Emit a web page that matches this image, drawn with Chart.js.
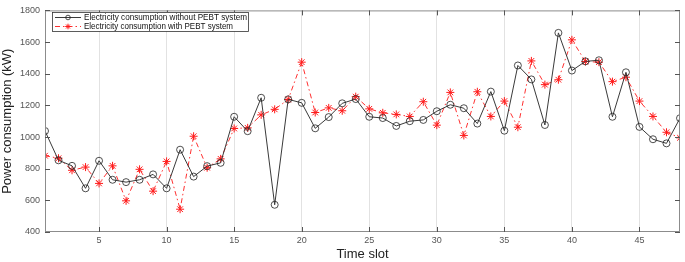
<!DOCTYPE html>
<html>
<head>
<meta charset="utf-8">
<script src="https://cdn.jsdelivr.net/npm/chart.js@4.4.1/dist/chart.umd.min.js"></script>
<style>
  html, body { margin: 0; padding: 0; background: #fff; }
  #wrap { width: 685px; height: 262px; }
</style>
</head>
<body>
<div id="wrap"><canvas id="powerChart" width="685" height="262"></canvas></div>
<script>
const timeSlots = [1, 2, 3, 4, 5, 6, 7, 8, 9, 10, 11, 12, 13, 14, 15, 16, 17, 18, 19, 20, 21, 22, 23, 24,
                   25, 26, 27, 28, 29, 30, 31, 32, 33, 34, 35, 36, 37, 38, 39, 40, 41, 42, 43, 44, 45, 46, 47, 48];
const withoutPebt = [1038, 853, 818, 676, 850, 730, 715, 730, 764, 676, 920, 750, 816, 837, 1128, 1037,
                     1248, 572, 1238, 1216, 1055, 1126, 1213, 1240, 1128, 1120, 1070, 1100, 1108, 1163, 1204, 1182,
                     1085, 1287, 1040, 1452, 1364, 1076, 1658, 1420, 1478, 1485, 1128, 1409, 1064, 986, 960, 1119];
const withPebt = [882, 866, 790, 810, 707, 818, 597, 796, 658, 846, 544, 1005, 806, 862, 1054, 1058,
                  1140, 1175, 1237, 1473, 1155, 1184, 1166, 1255, 1178, 1153, 1143, 1130, 1223, 1075, 1282, 1010,
                  1286, 1130, 1227, 1062, 1481, 1331, 1362, 1614, 1477, 1473, 1350, 1378, 1227, 1130, 1030, 995];
const xTicks = [5, 10, 15, 20, 25, 30, 35, 40, 45];
const yTicks = [400, 600, 800, 1000, 1200, 1400, 1600, 1800];
const seriesNames = ['Electricity consumption without PEBT system', 'Electricity consumption with PEBT system'];

const toPoints = function(values) {
    return values.map(function(v, i) { return { x: timeSlots[i], y: v }; });
};

// box around the plot, inward tick marks and the boxed legend (MATLAB look)
const framePlugin = {
    id: 'frame',
    afterDraw: function(chart) {
        const ctx = chart.ctx;
        const a = chart.chartArea;
        const xs = chart.scales.x, ys = chart.scales.y;
        ctx.save();
        ctx.strokeStyle = '#8c8c8c';
        ctx.lineWidth = 1;
        ctx.strokeRect(a.left + 0.5, a.top + 0.5, a.right - a.left - 1, a.bottom - a.top - 1);
        ctx.strokeStyle = '#555';
        ctx.beginPath();
        xTicks.forEach(function(t) {
            const px = Math.round(xs.getPixelForValue(t)) + 0.5;
            ctx.moveTo(px, a.bottom); ctx.lineTo(px, a.bottom - 5);
            ctx.moveTo(px, a.top); ctx.lineTo(px, a.top + 5);
        });
        yTicks.forEach(function(t) {
            const py = Math.round(ys.getPixelForValue(t)) + 0.5;
            ctx.moveTo(a.left, py); ctx.lineTo(a.left + 5, py);
            ctx.moveTo(a.right, py); ctx.lineTo(a.right - 5, py);
        });
        ctx.stroke();

        // legend
        const lx = 52, ly = 12, lw = 196, lh = 19;
        ctx.fillStyle = '#fff';
        ctx.fillRect(lx, ly, lw, lh);
        ctx.strokeStyle = '#333';
        ctx.lineWidth = 0.8;
        ctx.strokeRect(lx + 0.5, ly + 0.5, lw, lh);
        chart.data.datasets.forEach(function(ds, i) {
            const y = ly + 5.5 + i * 9;
            ctx.strokeStyle = ds.borderColor;
            ctx.lineWidth = ds.borderWidth;
            ctx.setLineDash(ds.borderDash || []);
            ctx.beginPath();
            ctx.moveTo(lx + 3, y); ctx.lineTo(lx + 29, y);
            ctx.stroke();
            ctx.setLineDash([]);
            ctx.strokeStyle = ds.pointBorderColor;
            ctx.fillStyle = ds.pointBackgroundColor;
            ctx.lineWidth = ds.pointBorderWidth;
            Chart.helpers.drawPoint(ctx, {
                pointStyle: ds.pointStyle, radius: ds.pointRadius - 1.2, borderWidth: ds.pointBorderWidth
            }, lx + 16, y);
            ctx.fillStyle = '#111';
            ctx.font = '9px "Liberation Sans", Arial, sans-serif';
            ctx.textBaseline = 'middle';
            const maxW = i === 0 ? 163 : 149;
            ctx.fillText(ds.label, lx + 32, y + 0.5, maxW);
        });
        ctx.restore();
    }
};

document.addEventListener('DOMContentLoaded', function() {
    const ctx = document.getElementById('powerChart');
    new Chart(ctx, {
        type: 'line',
        data: {
            datasets: [{
                label: seriesNames[0],
                data: toPoints(withoutPebt),
                borderColor: '#3a3a3a',
                borderWidth: 1,
                pointStyle: 'circle',
                pointRadius: 3.5,
                pointBorderWidth: 0.8,
                pointBorderColor: '#222',
                pointBackgroundColor: 'rgba(255,255,255,0)',
                tension: 0
            }, {
                label: seriesNames[1],
                data: toPoints(withPebt),
                borderColor: '#ff3030',
                borderWidth: 1,
                borderDash: [5, 3, 1.5, 3],
                pointStyle: 'star',
                pointRadius: 4,
                pointBorderWidth: 1,
                pointBorderColor: '#ff1a1a',
                pointBackgroundColor: '#ff1a1a',
                tension: 0
            }]
        },
        options: {
            responsive: false,
            animation: false,
            layout: { padding: { top: 4, right: 3, left: 0, bottom: 0 } },
            plugins: {
                legend: { display: false },
                tooltip: { enabled: false }
            },
            scales: {
                x: {
                    type: 'linear',
                    min: 1,
                    max: 48,
                    afterBuildTicks: function(scale) {
                        scale.ticks = xTicks.map(function(v) { return { value: v }; });
                    },
                    afterFit: function(scale) { scale.height = 30; },
                    grid: { color: '#e2e2e2', lineWidth: 1, drawTicks: false },
                    border: { display: false },
                    ticks: {
                        color: '#555',
                        padding: 3,
                        maxRotation: 0,
                        callback: function(v) { return String(v); },
                        font: { family: '"Liberation Sans", Arial, sans-serif', size: 9 }
                    },
                    title: {
                        display: true,
                        text: 'Time slot',
                        color: '#222',
                        padding: { top: 0, bottom: 0 },
                        font: { family: '"Liberation Sans", Arial, sans-serif', size: 13 }
                    }
                },
                y: {
                    min: 400,
                    max: 1800,
                    afterBuildTicks: function(scale) {
                        scale.ticks = yTicks.map(function(v) { return { value: v }; });
                    },
                    afterFit: function(scale) { scale.width = 45; },
                    grid: { display: false, drawTicks: false },
                    border: { display: false },
                    ticks: {
                        color: '#555',
                        padding: 5,
                        callback: function(v) { return String(v); },
                        font: { family: '"Liberation Sans", Arial, sans-serif', size: 9 }
                    },
                    title: {
                        display: true,
                        text: 'Power consumption (kW)',
                        color: '#222',
                        padding: { top: 0, bottom: 2 },
                        font: { family: '"Liberation Sans", Arial, sans-serif', size: 13 }
                    }
                }
            }
        },
        plugins: [framePlugin]
    });
});
</script>
</body>
</html>
